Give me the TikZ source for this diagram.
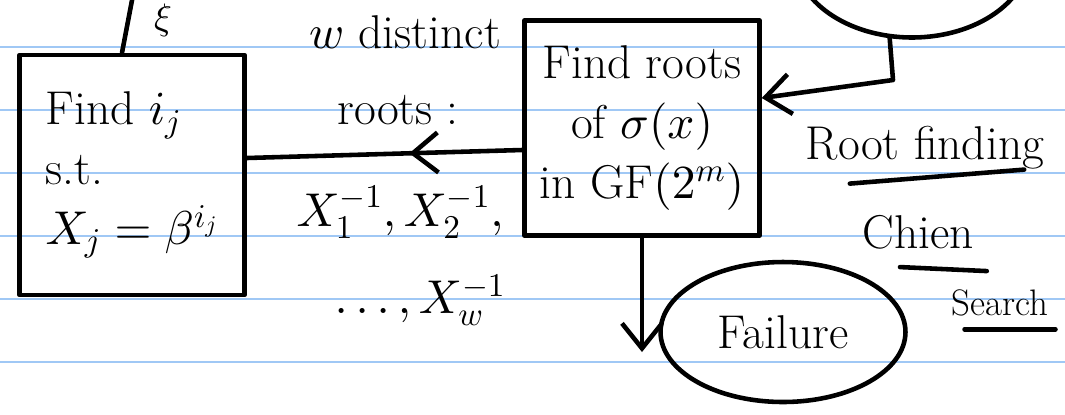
\documentclass[tikz,border=0pt]{standalone}
\usepackage{fontspec}
\usepackage{amsmath}
\DeclareFontShape{OML}{cmm}{m}{it}{<->cmmi10}{}
\DeclareFontShape{OMS}{cmsy}{m}{n}{<->cmsy10}{}
\DeclareFontShape{OT1}{cmr}{m}{n}{<->cmr10}{}
\usepackage{tikz}
\usetikzlibrary{shapes.geometric, arrows.meta, positioning, calc, decorations.markings}
\definecolor{ruleblue}{RGB}{160,200,245}
\newcommand{\handsize}{\fontsize{27}{34}\selectfont}
\newcommand{\smallhand}{\fontsize{21}{25}\selectfont}
\tikzset{
  ink/.style={line width=2.6pt, line cap=round, line join=round},
  ruleline/.style={draw=ruleblue, line width=1.1pt},
  stepbox/.style={
    rectangle, draw, ink,
    minimum width=4.5cm, minimum height=4.8cm,
    align=left, font=\handsize
  },
  blob/.style={ellipse, draw, ink, font=\handsize},
  note/.style={font=\handsize, inner sep=1pt},
  flow/.style={ink, -{Straight Barb[length=5mm,width=8mm]}},
  midflow/.style={
    ink, postaction={decorate},
    decoration={markings,
      mark=at position 0.41 with {\arrow{Straight Barb[length=5mm,width=8mm]}}}
  },
}

\begin{document}
\begin{tikzpicture}[x=0.02cm, y=-0.02cm]
  \useasboundingbox (0,0) rectangle (1065,414);
  \clip (0,0) rectangle (1065,414);

  % ruled paper
  \foreach \ry in {47,110,173,236,299,362}
    \draw[ruleline] (0,\ry) -- (1065,\ry);

  % boxes and bubbles
  \node (findij)    [stepbox] at (132,175) {Find $i_j$\\ s.t.\\ $X_j=\beta^{i_j}$};
  \node (findroots) [stepbox, align=center, minimum width=4.7cm, minimum height=4.3cm]
                    at (642,128) {Find roots\\ of $\sigma(x)$\\ in GF$(2^m)$};
  \node (failure)   [blob, minimum width=4.9cm, minimum height=2.8cm] at (783,332) {Failure};
  \node (syndrome)  [blob, minimum width=4.7cm, minimum height=3.3cm] at (912,-45) {};
  \node (xi)        [note, font=\smallhand] at (163,20) {$\xi$};

  % labels
  \node (wdist)    [note] at (405,32)  {$w$ distinct};
  \node (rootsc)   [note] at (398,110) {roots :};
  \node (xlist)    [note] at (400,212) {$X_1^{-1}, X_2^{-1},$};
  \node (xlast)    [note] at (420,300) {$\dots, X_w^{-1}$};
  \node (rootfind) [note] at (925,148) {Root finding};
  \node (chien)    [note] at (918,232) {Chien};
  \node (search)   [note, font=\smallhand] at (1000,303) {Search};

  \coordinate (failtip) at (findroots.south |- 0,352);
  \coordinate (bend) at (893,80);

  % connectors
  \draw[midflow] ([yshift=-0.44cm]findroots.west) -- ([yshift=0.34cm]findij.east);
  \draw[flow] (findroots.south) -- (failtip);
  \draw[flow] (syndrome.255) -- (bend) -- ([yshift=0.6cm]findroots.east);
  \draw[ink] ([xshift=-0.2cm]findij.north) -- (133,-5);

  % underlines
  \draw[ink] ($(rootfind.south west)+(46,12)$) -- ($(rootfind.south east)+(-22,-2)$);
  \draw[ink] ($(chien.south)+(-18,16)$) -- ($(chien.south east)+(11,20)$);
  \draw[ink] ($(search.south west)+(15,11)$) -- ($(search.south east)+(5,11)$);
\end{tikzpicture}
\end{document}
